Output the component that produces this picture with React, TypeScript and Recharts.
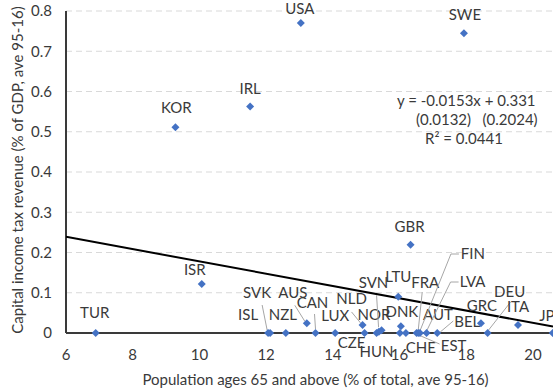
import React from 'react';
import { ScatterChart, Scatter, XAxis, YAxis, CartesianGrid, Label } from 'recharts';

const countries = ['USA', 'SWE', 'IRL', 'KOR', 'GBR', 'ISR', 'TUR', 'LTU', 'SVK', 'ISL', 'NZL', 'AUS', 'CAN', 'LUX', 'NLD', 'CZE', 'HUN', 'NOR', 'SVN', 'DNK', 'CHE', 'AUT', 'EST', 'FRA', 'FIN', 'LVA', 'BEL', 'GRC', 'DEU', 'ITA', 'JPN'];
const popAged = [13.04, 17.93, 11.52, 9.28, 16.33, 10.07, 6.89, 15.96, 12.06, 12.12, 12.59, 13.22, 13.48, 14.07, 14.89, 14.95, 15.31, 15.38, 15.46, 16.04, 16.01, 16.19, 16.51, 16.56, 16.61, 16.81, 17.13, 18.44, 18.64, 19.55, 20.59];
const capTax = [0.770, 0.745, 0.563, 0.511, 0.219, 0.122, 0, 0.090, 0, 0, 0, 0.024, 0, 0, 0.020, 0, 0, 0.003, 0.007, 0.017, 0, 0, 0, 0, 0, 0, 0, 0.024, 0, 0.020, 0];

const xTicks = [6, 8, 10, 12, 14, 16, 18, 20];
const yTicks = [0, 0.1, 0.2, 0.3, 0.4, 0.5, 0.6, 0.7, 0.8];

// end points of the fitted line
const trendX = [6, 20.6];
const trendY = [0.239, 0.016];

const equation = ['y = -0.0153x + 0.331', '(0.0132)   (0.2024)', 'R² = 0.0441'];

const points = countries.map((c, i) => ({ name: c, x: popAged[i], y: capTax[i] }));
const trend = trendX.map((x, i) => ({ x, y: trendY[i] }));

const FONT = 'Lato, "Open Sans", sans-serif';
const TXT = '#3a3a3a';
const FS = 15;

// where each data label sits relative to its marker (px), plus leader line if any
const labelPlace: Record<string, { dx: number; dy: number; leader?: number[][] }> = {
  USA: { dx: -1, dy: -14 },
  SWE: { dx: 1, dy: -18 },
  IRL: { dx: 0, dy: -18 },
  KOR: { dx: 1, dy: -20 },
  GBR: { dx: -1, dy: -18 },
  ISR: { dx: -7, dy: -14 },
  TUR: { dx: -1, dy: -20 },
  LTU: { dx: 0, dy: -20 },
  SVK: { dx: -11, dy: -40, leader: [[-6, -28], [-1, -3]] },
  ISL: { dx: -22, dy: -18 },
  NZL: { dx: -3, dy: -18 },
  AUS: { dx: -14, dy: -31, leader: [[-12, -18], [-2, -2]] },
  CAN: { dx: -3, dy: -30, leader: [[-1, -19], [0, -4]] },
  LUX: { dx: 0, dy: -17 },
  NLD: { dx: -11, dy: -26, leader: [[-11, -13], [-2, -2]] },
  CZE: { dx: -13, dy: 10 },
  HUN: { dx: 0, dy: 19 },
  NOR: { dx: -5, dy: -17 },
  SVN: { dx: -8, dy: -47, leader: [[-5, -35], [-3, -3]] },
  DNK: { dx: 1, dy: -14 },
  CHE: { dx: 21, dy: 15 },
  AUT: { dx: 32, dy: -18 },
  EST: { dx: 37, dy: 13, leader: [[23, 11], [2, 2]] },
  FRA: { dx: 7, dy: -50, leader: [[4, -41], [0, -3]] },
  FIN: { dx: 53, dy: -79, leader: [[39, -79], [31, -79], [0, -2]] },
  LVA: { dx: 46, dy: -51, leader: [[32, -51], [24, -51], [0, -2]] },
  BEL: { dx: 30, dy: -11, leader: [[16, -12], [3, -1]] },
  GRC: { dx: 1, dy: -18 },
  DEU: { dx: 22, dy: -41, leader: [[23, -31], [1, -3]] },
  ITA: { dx: 0, dy: -18 },
  JPN: { dx: 0, dy: -17 },
};

const Marker = (props: any) => {
  const { cx, cy, payload } = props;
  if (cx == null || cy == null) return <g />;
  const p = labelPlace[payload.name] || { dx: 0, dy: -18 };
  const r = 4;
  return (
    <g>
      {p.leader && (
        <polyline
          points={p.leader.map(([a, b]) => `${cx + a},${cy + b}`).join(' ')}
          fill="none"
          stroke="#a6a6a6"
          strokeWidth={1}
        />
      )}
      <polygon
        points={`${cx},${cy - r} ${cx + r},${cy} ${cx},${cy + r} ${cx - r},${cy}`}
        fill="#4472C4"
      />
      <text
        x={cx + p.dx}
        y={cy + p.dy}
        dy="0.35em"
        textAnchor="middle"
        fill={TXT}
        fontSize={FS}
        fontFamily={FONT}
      >
        {payload.name}
      </text>
    </g>
  );
};

export default function App() {
  return (
    <div style={{ position: 'absolute', left: 0, top: 0, width: 559, height: 391, background: '#fff' }}>
      <ScatterChart width={559} height={391} margin={{ top: 11, right: 6, left: 0, bottom: 0 }}>
        <CartesianGrid vertical={false} stroke="#d9d9d9" strokeDasharray="6 4" />
        <XAxis
          dataKey="x"
          type="number"
          domain={[6, 20.6]}
          ticks={xTicks}
          allowDataOverflow
          height={58}
          axisLine={{ stroke: '#3a3a3a', strokeWidth: 2 }}
          tickLine={false}
          tickMargin={10}
          tick={{ fill: TXT, fontSize: FS, fontFamily: FONT }}
        >
          <Label
            content={({ viewBox }: any) => (
              <text
                x={viewBox.x + viewBox.width / 2 + 6}
                y={viewBox.y + 52}
                textAnchor="middle"
                fill={TXT}
                fontSize={FS}
                fontFamily={FONT}
              >
                Population ages 65 and above (% of total, ave 95-16)
              </text>
            )}
          />
        </XAxis>
        <YAxis
          dataKey="y"
          type="number"
          domain={[0, 0.8]}
          ticks={yTicks}
          width={66}
          axisLine={{ stroke: '#3a3a3a', strokeWidth: 2 }}
          tickLine={false}
          tickMargin={8}
          tickFormatter={(v: number) => (v === 0 ? '0' : v.toFixed(1))}
          tick={{ fill: TXT, fontSize: FS, fontFamily: FONT }}
        >
          <Label
            content={() => (
              <text
                transform="translate(23,170) rotate(-90)"
                textAnchor="middle"
                fill={TXT}
                fontSize={FS}
                fontFamily={FONT}
              >
                Capital income tax revenue (% of GDP, ave 95-16)
              </text>
            )}
          />
        </YAxis>
        <Scatter
          data={trend}
          line={{ stroke: '#000', strokeWidth: 2 }}
          shape={() => <g />}
          isAnimationActive={false}
        />
        <Scatter data={points} shape={Marker} isAnimationActive={false} />
      </ScatterChart>
      <div
        style={{
          position: 'absolute',
          left: 397,
          top: 91,
          fontFamily: FONT,
          fontSize: FS,
          lineHeight: '19px',
          color: TXT,
          whiteSpace: 'pre',
        }}
      >
        <div>{equation[0]}</div>
        <div style={{ paddingLeft: 19 }}>{equation[1]}</div>
        <div style={{ paddingLeft: 28 }}>{equation[2]}</div>
      </div>
    </div>
  );
}
